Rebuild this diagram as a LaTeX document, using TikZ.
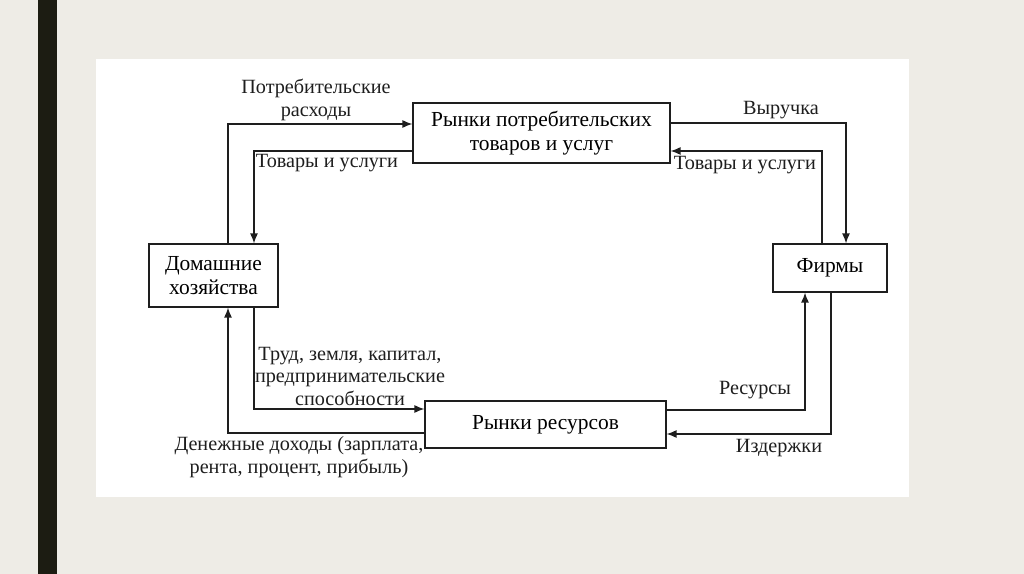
\documentclass[tikz,border=0pt]{standalone}
\usepackage{fontspec}
\setmainfont{Liberation Serif}
\usetikzlibrary{arrows.meta,calc}

\definecolor{slidebg}{HTML}{EEECE6}
\definecolor{slidebar}{HTML}{1C1C12}
\definecolor{ink}{HTML}{1E1E1E}

\tikzset{
  box/.style={draw=ink, line width=0.7pt, fill=white, align=center, inner sep=2pt,
    font=\fontsize{12.2}{13.4}\selectfont},
  lbl/.style={align=center, inner sep=1pt, text=ink, font=\fontsize{11.5}{12.8}\selectfont},
  flow/.style={draw=ink, line width=0.7pt, -{Latex[length=2mm,width=1.6mm]}}
}

\begin{document}
\begin{tikzpicture}[x=0.02cm,y=-0.02cm]
  % slide background
  \fill[slidebg] (0,0) rectangle (1024,574);
  \fill[slidebar] (38,0) rectangle (57,574);
  \fill[white] (96,59) rectangle (909,497);

  % markets and agents
  \node[box, minimum width=5.14cm, minimum height=1.2cm] (cgm) at (541.5,133) {Рынки потребительских\\товаров и услуг};
  \node[box, minimum width=2.58cm, minimum height=1.26cm] (hh) at (213.5,275.5) {Домашние\\хозяйства};
  \node[box, minimum width=2.28cm, minimum height=0.96cm] (firms) at (830,268) {Фирмы};
  \node[box, minimum width=4.82cm, minimum height=0.94cm] (rm) at (545.5,424.5) {Рынки ресурсов};

  % flows
  \draw[flow] ($(hh.north)+(14.5,0)$) |- ($(cgm.west)+(0,-9)$);
  \draw[flow] ($(cgm.west)+(0,18)$) -| ($(hh.north)+(40.5,0)$);
  \draw[flow] ($(cgm.east)+(0,-10)$) -| ($(firms.north)+(16,0)$);
  \draw[flow] ($(firms.north)+(-8,0)$) |- ($(cgm.east)+(0,18)$);
  \draw[flow] ($(hh.south)+(40.5,0)$) |- ($(rm.west)+(0,-15.5)$);
  \draw[flow] ($(rm.west)+(0,8.5)$) -| ($(hh.south)+(14.5,0)$);
  \draw[flow] ($(rm.east)+(0,-14.5)$) -| ($(firms.south)+(-25,0)$);
  \draw[flow] ($(firms.south)+(1,0)$) |- ($(rm.east)+(0,9.5)$);

  % labels
  \node[lbl] (spend) at (316,100) {Потребительские\\расходы};
  \node[lbl] (goodsL) at (327,163) {Товары и услуги};
  \node[lbl] (revenue) at (781,110) {Выручка};
  \node[lbl] (goodsR) at (745,165) {Товары и услуги};
  \node[lbl] (factors) at (350,376) {Труд, земля, капитал,\\предпринимательские\\способности};
  \node[lbl] (resources) at (755,390) {Ресурсы};
  \node[lbl] (costs) at (779,448) {Издержки};
  \node[lbl] (income) at (299,457) {Денежные доходы (зарплата,\\рента, процент, прибыль)};
\end{tikzpicture}
\end{document}
